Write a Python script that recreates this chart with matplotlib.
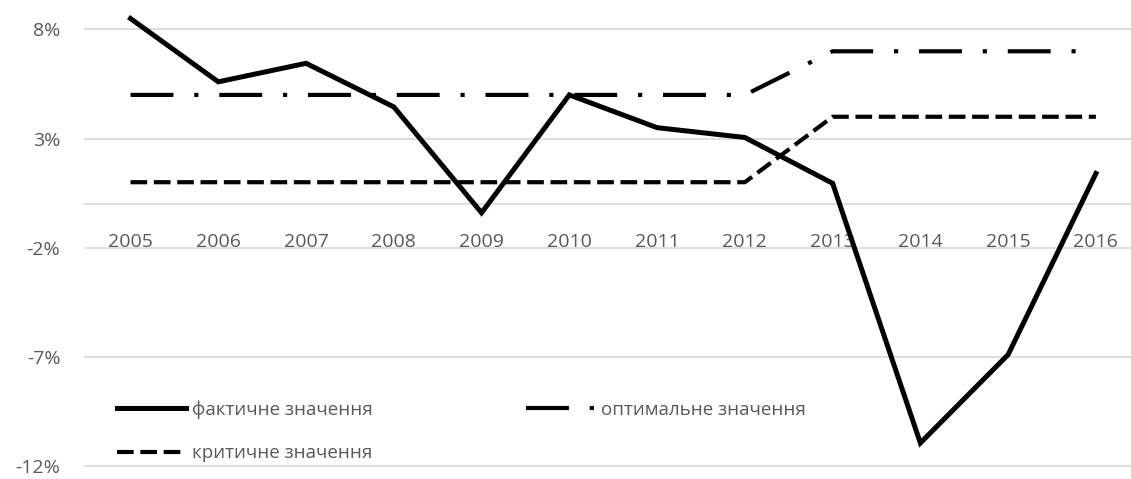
import matplotlib
matplotlib.use('Agg')
import matplotlib.pyplot as plt
from matplotlib.ticker import FuncFormatter

plt.rcParams['font.family'] = ['Liberation Sans Narrow', 'Open Sans', 'DejaVu Sans']

years = ['2005', '2006', '2007', '2008', '2009', '2010',
         '2011', '2012', '2013', '2014', '2015', '2016']
actual = [8.5, 5.6, 6.45, 4.45, -0.4, 5.0, 3.5, 3.05, 0.95, -10.95, -6.9, 1.4]
optimal = [5.0, 5.0, 5.0, 5.0, 5.0, 5.0, 5.0, 5.0, 7.0, 7.0, 7.0, 7.0]
critical = [1.0, 1.0, 1.0, 1.0, 1.0, 1.0, 1.0, 1.0, 4.0, 4.0, 4.0, 4.0]
yticks = [-12, -7, -2, 3, 8]

labels = ['фактичне значення', 'критичне значення', 'оптимальне значення']

TEXT = '#595959'
GRID = '#d9d9d9'

fig = plt.figure(figsize=(11.31, 4.79), dpi=100)
ax = fig.add_axes([84 / 1131, 0, 1 - 84 / 1131, 1])

x = range(len(years))
ax.plot(x, actual, color='black', lw=3.6, solid_joinstyle='miter', label=labels[0], zorder=4)
ax.plot(x, critical, color='black', lw=3.0, dashes=(4, 1.6), dash_capstyle='butt',
        label=labels[1], zorder=3)
ax.plot(x, optimal, color='black', lw=3.0, dashes=(10.3, 5, 1, 5), dash_capstyle='butt',
        label=labels[2], zorder=3)

ax.set_xlim(-0.53, 11.4)
ax.set_ylim(-12.6, 9.35)

ax.set_yticks(yticks)
ax.yaxis.set_major_formatter(FuncFormatter(lambda v, _: f'{v:.0f}%'))
ax.grid(axis='y', color=GRID, lw=1.2)
ax.set_axisbelow(True)

# category axis crosses at 0, labels sit below it
ax.set_xticks(list(x))
ax.set_xticklabels(years)
for s in ['top', 'right', 'left']:
    ax.spines[s].set_visible(False)
ax.spines['bottom'].set_position(('data', 0))
ax.spines['bottom'].set_color(GRID)
ax.spines['bottom'].set_linewidth(1.2)
ax.tick_params(axis='x', length=0, pad=21, labelsize=14, labelcolor=TEXT)
ax.tick_params(axis='y', length=0, pad=17, labelsize=14, labelcolor=TEXT)

fig.legend(loc='lower left', bbox_to_anchor=(100 / 1131, 0), ncol=2, frameon=False,
           fontsize=13.5, labelcolor=TEXT, handlelength=3.7, handletextpad=0.3,
           columnspacing=8.2, labelspacing=1.35)

fig.savefig('out.png', dpi=100)
